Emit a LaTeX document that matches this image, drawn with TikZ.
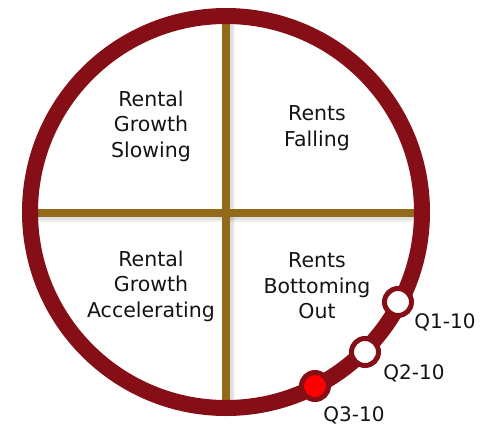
\documentclass[tikz,border=0pt]{standalone}
\usepackage{fontspec}
\setmainfont{DejaVu Sans}
\definecolor{ringred}{HTML}{850E17}
\definecolor{gold}{HTML}{93691A}
\begin{document}
\begin{tikzpicture}[x=1pt,y=-1pt,
  divider/.style={line width=7.5pt, draw=gold},
  dshadow/.style={line width=10pt, draw=black, opacity=0.06},
  ringstyle/.style={circle, draw=ringred, line width=16pt, minimum size=392pt, inner sep=0pt},
  marker/.style={circle, draw=ringred, line width=5pt, fill=white, minimum size=27pt, inner sep=0pt},
  current/.style={marker, fill=red},
  quad/.style={align=center, font=\fontsize{20.5}{25.5}\selectfont, text=black!92},
  qlabel/.style={font=\fontsize{20}{24}\selectfont, text=black!92, inner sep=0pt}]
\useasboundingbox (0,0) rectangle (482,426);
\coordinate (hl) at (30,213);
\coordinate (hr) at (420,213);
\coordinate (vt) at (226,20);
\coordinate (vb) at (226,404);
% shadows
\draw[dshadow] ([shift={(2,4)}]hl) -- ([shift={(2,4)}]hr);
\draw[dshadow] ([shift={(4,2)}]vt) -- ([shift={(4,2)}]vb);
\draw[dshadow, line width=8pt, opacity=0.07] ([shift={(1,3)}]hl) -- ([shift={(1,3)}]hr);
\draw[dshadow, line width=8pt, opacity=0.07] ([shift={(3,1)}]vt) -- ([shift={(3,1)}]vb);
% dividers
\draw[divider] (vt) -- (vb);
\draw[divider] (hl) -- (hr);
% ring
\node[ringstyle] (ring) at (226,212) {};
% quadrant texts
\node[quad] (q1) at (151,126) {Rental\\Growth\\Slowing};
\node[quad] (q2) at (317,128) {Rents\\Falling};
\node[quad] (q3) at (151,286) {Rental\\Growth\\Accelerating};
\node[quad] (q4) at (317,286) {Rents\\Bottoming\\Out};
% markers
\node[marker] (m1) at (398,302) {};
\node[marker] (m2) at (365,352) {};
\node[current] (m3) at (315,386) {};
\node[qlabel] (l1) at (445,322) {Q1-10};
\node[qlabel] (l2) at (414,373) {Q2-10};
\node[qlabel] (l3) at (354,415) {Q3-10};
\end{tikzpicture}
\end{document}
